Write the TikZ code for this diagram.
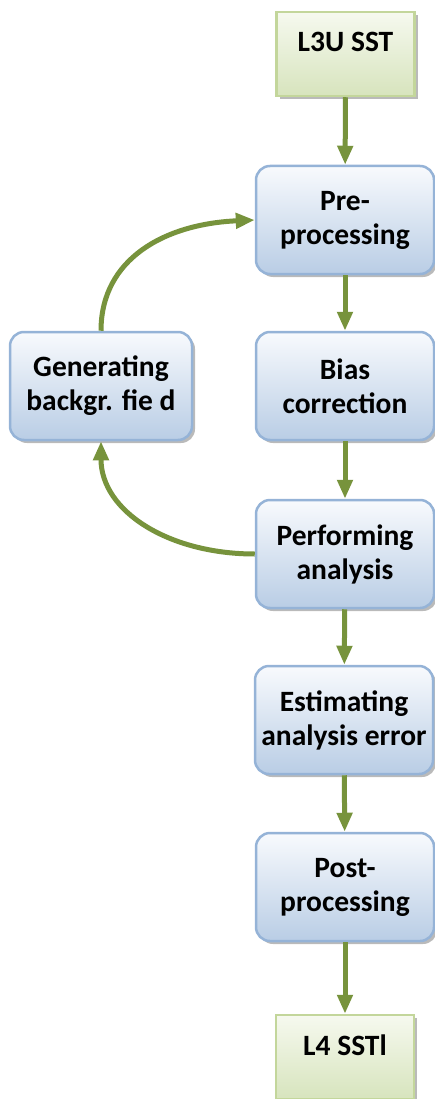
\documentclass[tikz,border=0pt]{standalone}
\usepackage{fontspec}
\setmainfont{Carlito}
\usetikzlibrary{shadows,arrows.meta}

\definecolor{verdeflecha}{RGB}{119,147,60}
\definecolor{bordeazul}{RGB}{149,179,215}
\definecolor{azularriba}{RGB}{248,250,253}
\definecolor{azulabajo}{RGB}{185,205,229}
\definecolor{bordeverde}{RGB}{195,214,155}
\definecolor{verdearriba}{RGB}{246,249,239}
\definecolor{verdeabajo}{RGB}{215,228,189}

\begin{document}
\begin{tikzpicture}[x=1pt, y=-1pt,
    paso/.style={draw=bordeazul, line width=2.5pt, rounded corners=14pt,
        top color=azularriba, bottom color=azulabajo,
        minimum width=178pt, minimum height=108pt, align=center,
        font=\bfseries\fontsize{29.5}{34}\selectfont,
        drop shadow={shadow xshift=3pt, shadow yshift=-3pt, opacity=0.45, fill=black!60}},
    dato/.style={draw=bordeverde, line width=2.5pt,
        top color=verdearriba, bottom color=verdeabajo,
        minimum width=138pt, minimum height=84pt,
        text height=20pt, text depth=24pt,
        font=\bfseries\fontsize{29.5}{34}\selectfont,
        drop shadow={shadow xshift=3pt, shadow yshift=-3pt, opacity=0.45, fill=black!60}},
    conector/.style={draw=verdeflecha, line width=5pt,
        -{Triangle[length=19pt, width=15pt]}}]
    \useasboundingbox (0,0) rectangle (435,1099);

    % Datos de entrada y salida
    \node[dato] (l3u) at (345.5,54) {L3U SST};
    \node[dato] (l4) at (345,1057) {L4 SSTl};

    % Pasos de la cadena
    \node[paso] (pre) at (345,220) {Pre-\\processing};
    \node[paso] (bias) at (345,386) {Bias\\correction};
    \node[paso] (perf) at (345,554) {Performing\\analysis};
    \node[paso] (est) at (344,720) {Estimating\\analysis error};
    \node[paso] (post) at (345,887) {Post-\\processing};
    \node[paso, minimum width=182pt] (gen) at (101,386) {Generating\\backgr. fie d};

    % Flechas verticales
    \draw[conector] (l3u) -- (pre);
    \draw[conector] (pre) -- (bias);
    \draw[conector] (bias) -- (perf);
    \draw[conector] (perf) -- (est);
    \draw[conector] (est) -- (post);
    \draw[conector] (post) -- (l4);

    % Ciclo del campo de fondo
    \draw[conector] (perf.west) .. controls +(-86,0) and +(0,70) .. (gen.south);
    \draw[conector] (gen.north) .. controls +(0,-72) and +(-90,4) .. (pre.west);
\end{tikzpicture}
\end{document}
